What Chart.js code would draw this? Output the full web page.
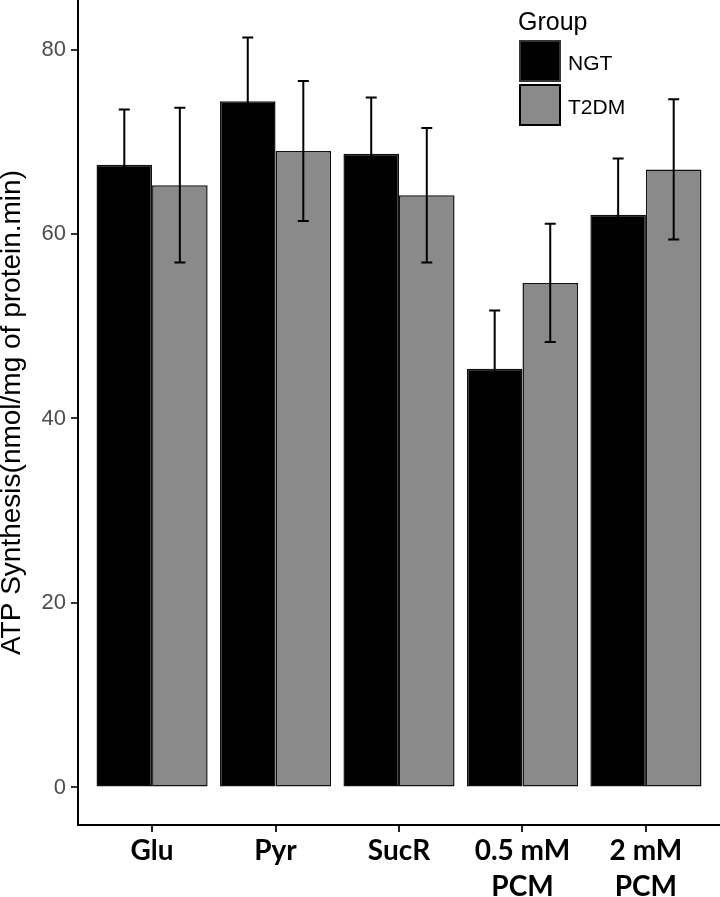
<!DOCTYPE html>
<html>
<head>
<meta charset="utf-8">
<script src="https://cdn.jsdelivr.net/npm/chart.js@4.4.1/dist/chart.umd.min.js"></script>
<style>
  html, body { margin: 0; padding: 0; background: #fff; }
  #wrap { width: 720px; height: 897px; }
</style>
</head>
<body>
<div id="wrap"><canvas id="grafico" width="720" height="897"></canvas></div>
<script>
// categorias e valores
const categorias = ["Glu", "Pyr", "SucR", ["0.5 mM", "PCM"], ["2 mM", "PCM"]];
const ngt = [67.5, 74.4, 68.7, 45.4, 62.1];
const ngtSd = [6.0, 6.9, 6.1, 6.3, 6.1];
const t2dm = [65.3, 69.0, 64.2, 54.7, 67.0];
const t2dmSd = [8.4, 7.6, 7.3, 6.4, 7.6];
const yTicks = [0, 20, 40, 60, 80];
const grupos = ["NGT", "T2DM"];
const cores = ["#000000", "#8a8a8a"];

// Barras de erro desenhadas por cima das barras
const errorBars = {
  id: "errorBars",
  afterDatasetsDraw(chart) {
    const ctx = chart.ctx;
    const y = chart.scales.y;
    const sds = [ngtSd, t2dmSd];
    ctx.save();
    ctx.strokeStyle = "#000";
    ctx.lineWidth = 2;
    chart.data.datasets.forEach((ds, di) => {
      const meta = chart.getDatasetMeta(di);
      meta.data.forEach((bar, i) => {
        const v = ds.data[i].y;
        const sd = sds[di][i];
        const top = y.getPixelForValue(v + sd);
        const bot = y.getPixelForValue(v - sd);
        ctx.beginPath();
        ctx.moveTo(bar.x, top);
        ctx.lineTo(bar.x, bot);
        ctx.moveTo(bar.x - 5.5, top);
        ctx.lineTo(bar.x + 5.5, top);
        ctx.moveTo(bar.x - 5.5, bot);
        ctx.lineTo(bar.x + 5.5, bot);
        ctx.stroke();
      });
    });
    ctx.restore();
  },
};

// Legenda no estilo ggplot
const legendaGgplot = {
  id: "legendaGgplot",
  afterDraw(chart) {
    const ctx = chart.ctx;
    ctx.save();
    ctx.fillStyle = "#000";
    ctx.textBaseline = "alphabetic";
    ctx.font = "25px 'Liberation Sans', Arial, sans-serif";
    ctx.fillText("Group", 518, 29.5);
    ctx.font = "21px 'Liberation Sans', Arial, sans-serif";
    grupos.forEach((g, i) => {
      const top = 40 + i * 44;
      ctx.fillStyle = cores[i];
      ctx.fillRect(519, top, 42, 42);
      ctx.strokeStyle = i === 0 ? "#333" : "#000";
      ctx.lineWidth = 2;
      ctx.strokeRect(520, top + 1, 40, 40);
      ctx.fillStyle = "#000";
      ctx.fillText(g, 568, top + 30);
    });
    ctx.restore();
  },
};

const ctx = document.getElementById("grafico").getContext("2d");
new Chart(ctx, {
  type: "bar",
  data: {
    datasets: [
      {
        label: grupos[0],
        data: ngt.map((v, i) => ({ x: i, y: v })),
        backgroundColor: cores[0],
        borderColor: "#111",
        borderWidth: 1.5,
        borderSkipped: false,
      },
      {
        label: grupos[1],
        data: t2dm.map((v, i) => ({ x: i, y: v })),
        backgroundColor: cores[1],
        borderColor: "#111",
        borderWidth: 1.5,
        borderSkipped: false,
      },
    ],
  },
  options: {
    responsive: false,
    animation: false,
    devicePixelRatio: 1,
    categoryPercentage: 0.9,
    barPercentage: 1.0,
    layout: { padding: 0 },
    plugins: {
      legend: { display: false },
      tooltip: { enabled: false },
    },
    scales: {
      x: {
        type: "linear",
        offset: false,
        min: -0.6,
        max: 4.6,
        afterBuildTicks: (s) => {
          s.ticks = categorias.map((_, i) => ({ value: i }));
        },
        afterFit: (s) => {
          s.height = 72;
          s.paddingLeft = 0;
          s.paddingRight = 0;
        },
        ticks: {
          callback: (v) => categorias[v],
          color: "#000",
          font: { family: "Lato, 'Open Sans', sans-serif", size: 28, weight: "bold", lineHeight: 1.29 },
          padding: 1,
          maxRotation: 0,
          autoSkip: false,
        },
        grid: { offset: false, drawOnChartArea: false, drawTicks: true, tickLength: 7, color: "#222", lineWidth: 2 },
        border: { display: true, color: "#000", width: 2 },
      },
      y: {
        min: -4.07,
        max: 85.37,
        afterBuildTicks: (s) => {
          s.ticks = yTicks.map((v) => ({ value: v }));
        },
        afterFit: (s) => {
          s.width = 78;
          s.paddingTop = 0;
          s.paddingBottom = 0;
        },
        ticks: {
          color: "#4d4d4d",
          font: { family: "'Liberation Sans', Arial, sans-serif", size: 22 },
          padding: 5,
        },
        grid: { drawOnChartArea: false, drawTicks: true, tickLength: 7, color: "#333", lineWidth: 2 },
        border: { display: true, color: "#000", width: 2 },
        title: {
          display: true,
          text: "ATP Synthesis(nmol/mg of protein.min)",
          color: "#000",
          font: { family: "'Liberation Sans', Arial, sans-serif", size: 28, lineHeight: 0.85 },
          padding: { top: 0, bottom: 0 },
        },
      },
    },
  },
  plugins: [errorBars, legendaGgplot],
});
</script>
</body>
</html>
